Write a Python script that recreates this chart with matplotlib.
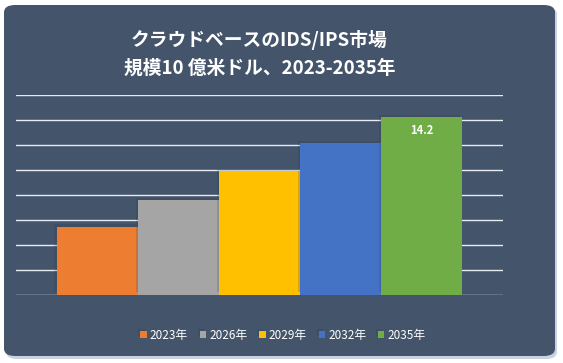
import matplotlib.pyplot as plt
from matplotlib.patches import FancyBboxPatch
import matplotlib.patheffects as pe

plt.rcParams['font.family'] = ['Noto Sans CJK JP', 'DejaVu Sans']

# data
years = ["2023年", "2026年", "2029年", "2032年", "2035年"]
values = [5.45, 7.6, 9.9, 12.15, 14.2]
colors = ["#ED7D31", "#A5A5A5", "#FFC000", "#4472C4", "#70AD47"]
yticks = [0, 2, 4, 6, 8, 10, 12, 14, 16]
title_lines = ["クラウドベースのIDS/IPS市場", "規模10 億米ドル、2023-2035年"]

bg = "#44546A"

fig = plt.figure(figsize=(5.63, 3.63), dpi=100)
fig.patch.set_facecolor("white")

# shadow + rounded card
shadow = FancyBboxPatch((6 / 563, 4 / 363), 551 / 563, 352 / 363,
                        boxstyle="round,pad=0,rounding_size=0.02",
                        transform=fig.transFigure, facecolor="#c9d3e0",
                        edgecolor="none", zorder=0)
card = FancyBboxPatch((4 / 563, 7 / 363), 551 / 563, 351 / 363,
                      boxstyle="round,pad=0,rounding_size=0.02",
                      transform=fig.transFigure, facecolor=bg,
                      edgecolor="none", zorder=1)
fig.patches.extend([shadow, card])

ax = fig.add_axes([16 / 563, 68.5 / 363, 487 / 563, 199.5 / 363])
ax.set_facecolor("none")
ax.set_zorder(2)

for y in yticks:
    ax.axhline(y, color="#e8ecf2", linewidth=1.0, zorder=1)

for i, (yr, v, c) in enumerate(zip(years, values, colors)):
    ax.bar(i, v, width=1.0, color=c, label=yr, zorder=3,
           path_effects=[pe.SimplePatchShadow(offset=(-1.5, 1.5), shadow_rgbFace="#2b3545", alpha=0.18),
                         pe.Normal()])

ax.text(4, values[-1] - 0.55, f"{values[-1]:.1f}", ha="center", va="top",
        color="white", fontsize=8, fontweight="bold", zorder=4)

ax.set_xlim(-1, 5)
ax.set_ylim(0, 16)
ax.set_xticks([])
ax.set_yticks([])
for s in ax.spines.values():
    s.set_visible(False)

cx = (16 + 487 / 2) / 563
fig.text(cx, 1 - 40 / 363, title_lines[0], ha="center", va="center",
         color="white", fontsize=13.5, fontweight="bold")
fig.text(cx, 1 - 68 / 363, title_lines[1], ha="center", va="center",
         color="white", fontsize=13.5, fontweight="bold")

leg = ax.legend(loc="center", bbox_to_anchor=(283 / 563, 1 - 335 / 363),
                bbox_transform=fig.transFigure, ncol=5, frameon=False,
                handlelength=0.55, handleheight=0.55, handletextpad=0.25,
                columnspacing=1.0, fontsize=8.5)
for t in leg.get_texts():
    t.set_color("white")

fig.savefig("out.png", dpi=100, facecolor=fig.get_facecolor())
